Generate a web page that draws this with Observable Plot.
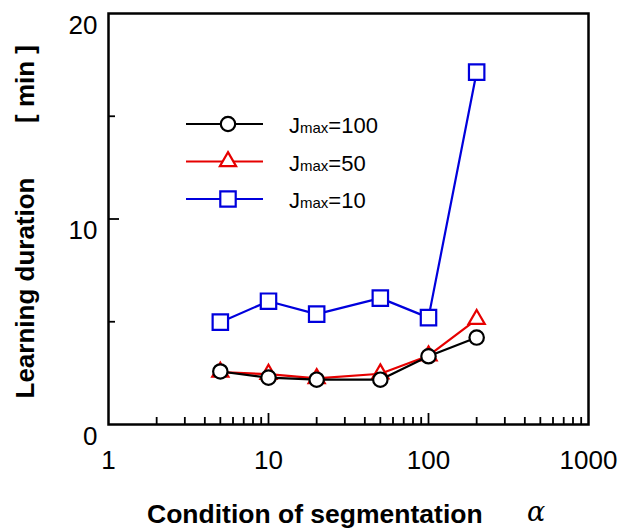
<!DOCTYPE html>
<html>
<head>
<meta charset="utf-8">
<script src="https://cdn.jsdelivr.net/npm/d3@7"></script>
<script src="https://cdn.jsdelivr.net/npm/@observablehq/plot@0.6"></script>
<style>
  body { margin: 0; background: white; }
  #wrap { position: relative; width: 620px; height: 531px; }
  #wrap svg.overlay { position: absolute; left: 0; top: 0; pointer-events: none; }
</style>
</head>
<body>
<div id="wrap"></div>
<script>
// ---- data ----
const alphas = [5, 10, 20, 50, 100, 200];
const jmax100 = [2.58, 2.28, 2.18, 2.18, 3.32, 4.23];
const jmax50  = [2.55, 2.45, 2.24, 2.47, 3.35, 5.12];
const jmax10  = [4.98, 6.00, 5.37, 6.15, 5.20, 17.15];
const seriesNames = ["100", "50", "10"];
const xTickLabels = [1, 10, 100, 1000];
const xMajorTicks = [10, 100];
const xMinorTicks = [2,3,4,5,6,7,8,9,20,30,40,50,60,70,80,90,200,300,400,500,600,700,800,900];
const yTickLabels = [0, 10, 20];
const yMajorTicks = [10];
const yMinorTicks = [5, 15];

const colors = {"100": "#000000", "50": "#e60000", "10": "#0000dd"};
const symbols = {"100": "circle", "50": "triangle", "10": "square"};
const radii = {"100": 7.2, "50": 6.0, "10": 8.7};

const valuesBy = {"100": jmax100, "50": jmax50, "10": jmax10};
const table = name => alphas.map((a, i) => ({alpha: a, value: valuesBy[name][i], series: name}));

const drawOrder = ["10", "50", "100"];
const seriesMarks = drawOrder.flatMap(name => [
  Plot.line(table(name), {x: "alpha", y: "value", stroke: colors[name], strokeWidth: 2.2}),
  Plot.dot(table(name), {x: "alpha", y: "value", symbol: symbols[name], r: radii[name],
    stroke: colors[name], fill: "white", strokeWidth: 2.2})
]);

const chart = Plot.plot({
  width: 620,
  height: 531,
  marginLeft: 108,
  marginRight: 32,
  marginTop: 13,
  marginBottom: 107,
  x: {type: "log", domain: [1, 1000]},
  y: {domain: [0, 20]},
  style: {fontFamily: "'Liberation Sans', Arial, sans-serif", fontSize: "26px", background: "white", color: "black"},
  marks: [
    Plot.axisX({ticks: xMinorTicks, tickSize: -7, text: null, label: null, strokeWidth: 1.8}),
    Plot.axisX({ticks: xMajorTicks, tickSize: -11, text: null, label: null, strokeWidth: 1.8}),
    Plot.axisX({ticks: xTickLabels, tickSize: 0, tickPadding: 26, tickFormat: d => String(d), label: null, fontSize: 26}),
    Plot.axisY({ticks: yMinorTicks, tickSize: -7, text: null, label: null, strokeWidth: 1.8}),
    Plot.axisY({ticks: yMajorTicks, tickSize: -11, text: null, label: null, strokeWidth: 1.8}),
    Plot.axisY({ticks: yTickLabels, tickSize: 0, tickPadding: 11, dy: 12, label: null, fontSize: 26}),
    ...seriesMarks,
    Plot.frame({stroke: "black", strokeWidth: 2.5})
  ]
});

const wrap = document.getElementById("wrap");
wrap.appendChild(chart);

// ---- overlay: titles and legend ----
const ov = d3.select(wrap).append("svg").attr("class", "overlay")
  .attr("width", 620).attr("height", 531)
  .style("font-family", "'Liberation Sans', Arial, sans-serif");

ov.append("text").attr("transform", "translate(34,288) rotate(-90)")
  .attr("text-anchor", "middle").attr("font-weight", "bold").attr("font-size", 26)
  .text("Learning duration");
ov.append("text").attr("transform", "translate(34,84) rotate(-90)")
  .attr("text-anchor", "middle").attr("font-weight", "bold").attr("font-size", 26)
  .text("[ min ]");
ov.append("text").attr("x", 147).attr("y", 523)
  .attr("font-weight", "bold").attr("font-size", 26.5)
  .text("Condition of segmentation");
ov.append("text").attr("x", 527).attr("y", 521)
  .attr("font-family", "'DejaVu Serif', 'Liberation Serif', serif")
  .attr("font-style", "italic").attr("font-size", 27)
  .text("α");

const d3sym = {circle: d3.symbolCircle, triangle: d3.symbolTriangle, square: d3.symbolSquare};
seriesNames.forEach((name, i) => {
  const y = 124 + i * 37.5;
  const g = ov.append("g");
  g.append("line").attr("x1", 186).attr("x2", 263).attr("y1", y).attr("y2", y)
    .attr("stroke", colors[name]).attr("stroke-width", 2.2);
  g.append("path")
    .attr("d", d3.symbol(d3sym[symbols[name]], radii[name] * radii[name] * Math.PI)())
    .attr("transform", `translate(228,${y})`)
    .attr("fill", "white").attr("stroke", colors[name]).attr("stroke-width", 2.2);
  const t = g.append("text").attr("x", 289).attr("y", y + 9).attr("font-size", 22);
  t.append("tspan").text("J");
  t.append("tspan").attr("font-size", 15).text("max");
  t.append("tspan").text("=" + name);
});
</script>
</body>
</html>
